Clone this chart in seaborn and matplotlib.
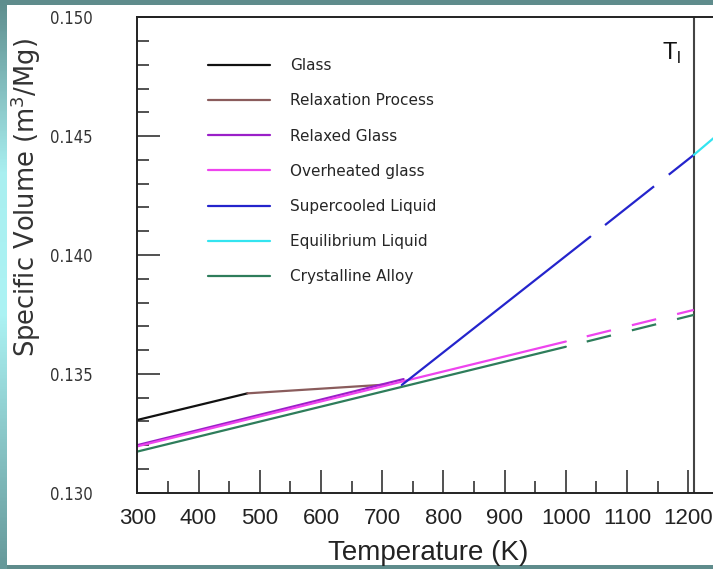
import matplotlib
matplotlib.use("Agg")
import matplotlib.pyplot as plt
import seaborn as sns
import numpy as np
from matplotlib.colors import LinearSegmentedColormap
from matplotlib.patches import Rectangle
from matplotlib.ticker import MultipleLocator, FormatStrFormatter

# ======================================================
# Data
# ======================================================

glass_T = [300, 480]
glass_V = [0.13306, 0.13418]

relax_T = [480, 707]
relax_V = [0.13418, 0.13455]

relaxed_T = [300, 735]
relaxed_V = [0.13200, 0.13478]

# last point = dashed continuation
overheat_T = [300, 1000, 1209]
overheat_V = [0.13195, 0.13636, 0.13769]

supercooled_T = [732, 1040, 1209]
supercooled_V = [0.13453, 0.14077, 0.14421]

equilibrium_T = [1209, 1300]
equilibrium_V = [0.14421, 0.14620]

crystal_T = [300, 1000, 1209]
crystal_V = [0.13173, 0.13614, 0.13748]

T_liquidus = 1209

x_ticks = [300, 400, 500, 600, 700, 800, 900, 1000, 1100, 1200]

# ======================================================
# Style
# ======================================================

sns.set_style("ticks")
plt.rcParams['font.family'] = ['DejaVu Sans']
plt.rcParams['lines.scale_dashes'] = False

fig = plt.figure(figsize=(7.13, 5.69), dpi=100)
fig.patch.set_facecolor('#5f8c8c')

# white slide area + light gradient on left edge
fig.add_artist(Rectangle((7 / 713, 4 / 569), 1, 1 - 9 / 569,
                         transform=fig.transFigure, facecolor='white',
                         edgecolor='none', zorder=-5))
strip = fig.add_axes([0, 0, 7 / 713, 1], zorder=-4)
cmap = LinearSegmentedColormap.from_list(
    "edge", [(0, '#5e8d8d'), (0.3, '#a9eff0'), (0.55, '#acf3f4'), (1, '#66999a')])
strip.imshow(np.linspace(0, 1, 200).reshape(-1, 1), cmap=cmap, aspect='auto')
strip.axis('off')

ax = fig.add_axes([137.3 / 713, 76.3 / 569, 673.4 / 713, 475.4 / 569])
ax.set_facecolor('white')

LW = 1.6


def draw(T, V, color, label, dash=None):
    sns.lineplot(x=T[:2], y=V[:2], color=color, lw=LW, label=label, ax=ax)
    if len(T) > 2:
        sns.lineplot(x=T[1:], y=V[1:], color=color, lw=LW, linestyle=dash, ax=ax)


draw(glass_T, glass_V, '#111111', 'Glass')
draw(relax_T, relax_V, '#8a5c5c', 'Relaxation Process')
draw(relaxed_T, relaxed_V, '#9a1fc8', 'Relaxed Glass')
draw(overheat_T, overheat_V, '#ee44ee', 'Overheated glass', dash=(18, (18, 15.5)))
draw(supercooled_T, supercooled_V, '#2424cc', 'Supercooled Liquid', dash=(45, (45, 13.5)))
draw(equilibrium_T, equilibrium_V, '#33e4f0', 'Equilibrium Liquid')
draw(crystal_T, crystal_V, '#2e7d5b', 'Crystalline Alloy', dash=(18, (18, 15.5)))

ax.axvline(T_liquidus, color='#444444', lw=1.5, zorder=1)
ax.text(1188, 0.14821, r'T$_\mathregular{l}$', ha='right', va='baseline',
        fontsize=17, family=['Liberation Sans', 'DejaVu Sans'], color='#111111')

# ======================================================
# Axes
# ======================================================

ax.set_xlim(300, 1400)
ax.set_ylim(0.130, 0.150)

ax.set_xticks(x_ticks)
ax.set_xticklabels([str(t) for t in x_ticks])
ax.xaxis.set_minor_locator(MultipleLocator(50))
ax.yaxis.set_major_locator(MultipleLocator(0.005))
ax.yaxis.set_minor_locator(MultipleLocator(0.001))
ax.yaxis.set_major_formatter(FormatStrFormatter('%.3f'))

ax.tick_params(which='both', direction='in', color='#222222', width=1.1)
ax.tick_params(which='major', length=16.6)
ax.tick_params(which='minor', length=8.6)
ax.tick_params(axis='x', which='major', pad=11, labelsize=16, labelcolor='#222222')
ax.tick_params(axis='y', which='major', pad=32, labelsize=12, labelcolor='#333333')

for lbl in ax.get_xticklabels():
    lbl.set_family(['Liberation Sans', 'DejaVu Sans'])
for lbl in ax.get_yticklabels():
    lbl.set_fontstretch('condensed')

for side in ['left', 'bottom', 'top']:
    ax.spines[side].set_linewidth(1.4)
    ax.spines[side].set_color('#222222')
ax.spines['right'].set_visible(False)

ax.set_xlabel('Temperature (K)', fontsize=20, color='#222222',
              family=['Liberation Sans', 'DejaVu Sans'])
ax.xaxis.set_label_coords(0.4317, -0.0995)
ax.set_ylabel('Specific Volume (m$^3$/Mg)', fontsize=18.5, color='#333333')
ax.yaxis.set_label_coords(-0.14, 0.622)

ax.legend(loc='upper left', bbox_to_anchor=(0.105, 0.914), frameon=False,
          borderpad=0, borderaxespad=0, fontsize=11, handlelength=4.05,
          handletextpad=1.3, labelspacing=1.32)

fig.savefig("out.png", dpi=100, facecolor=fig.get_facecolor())
